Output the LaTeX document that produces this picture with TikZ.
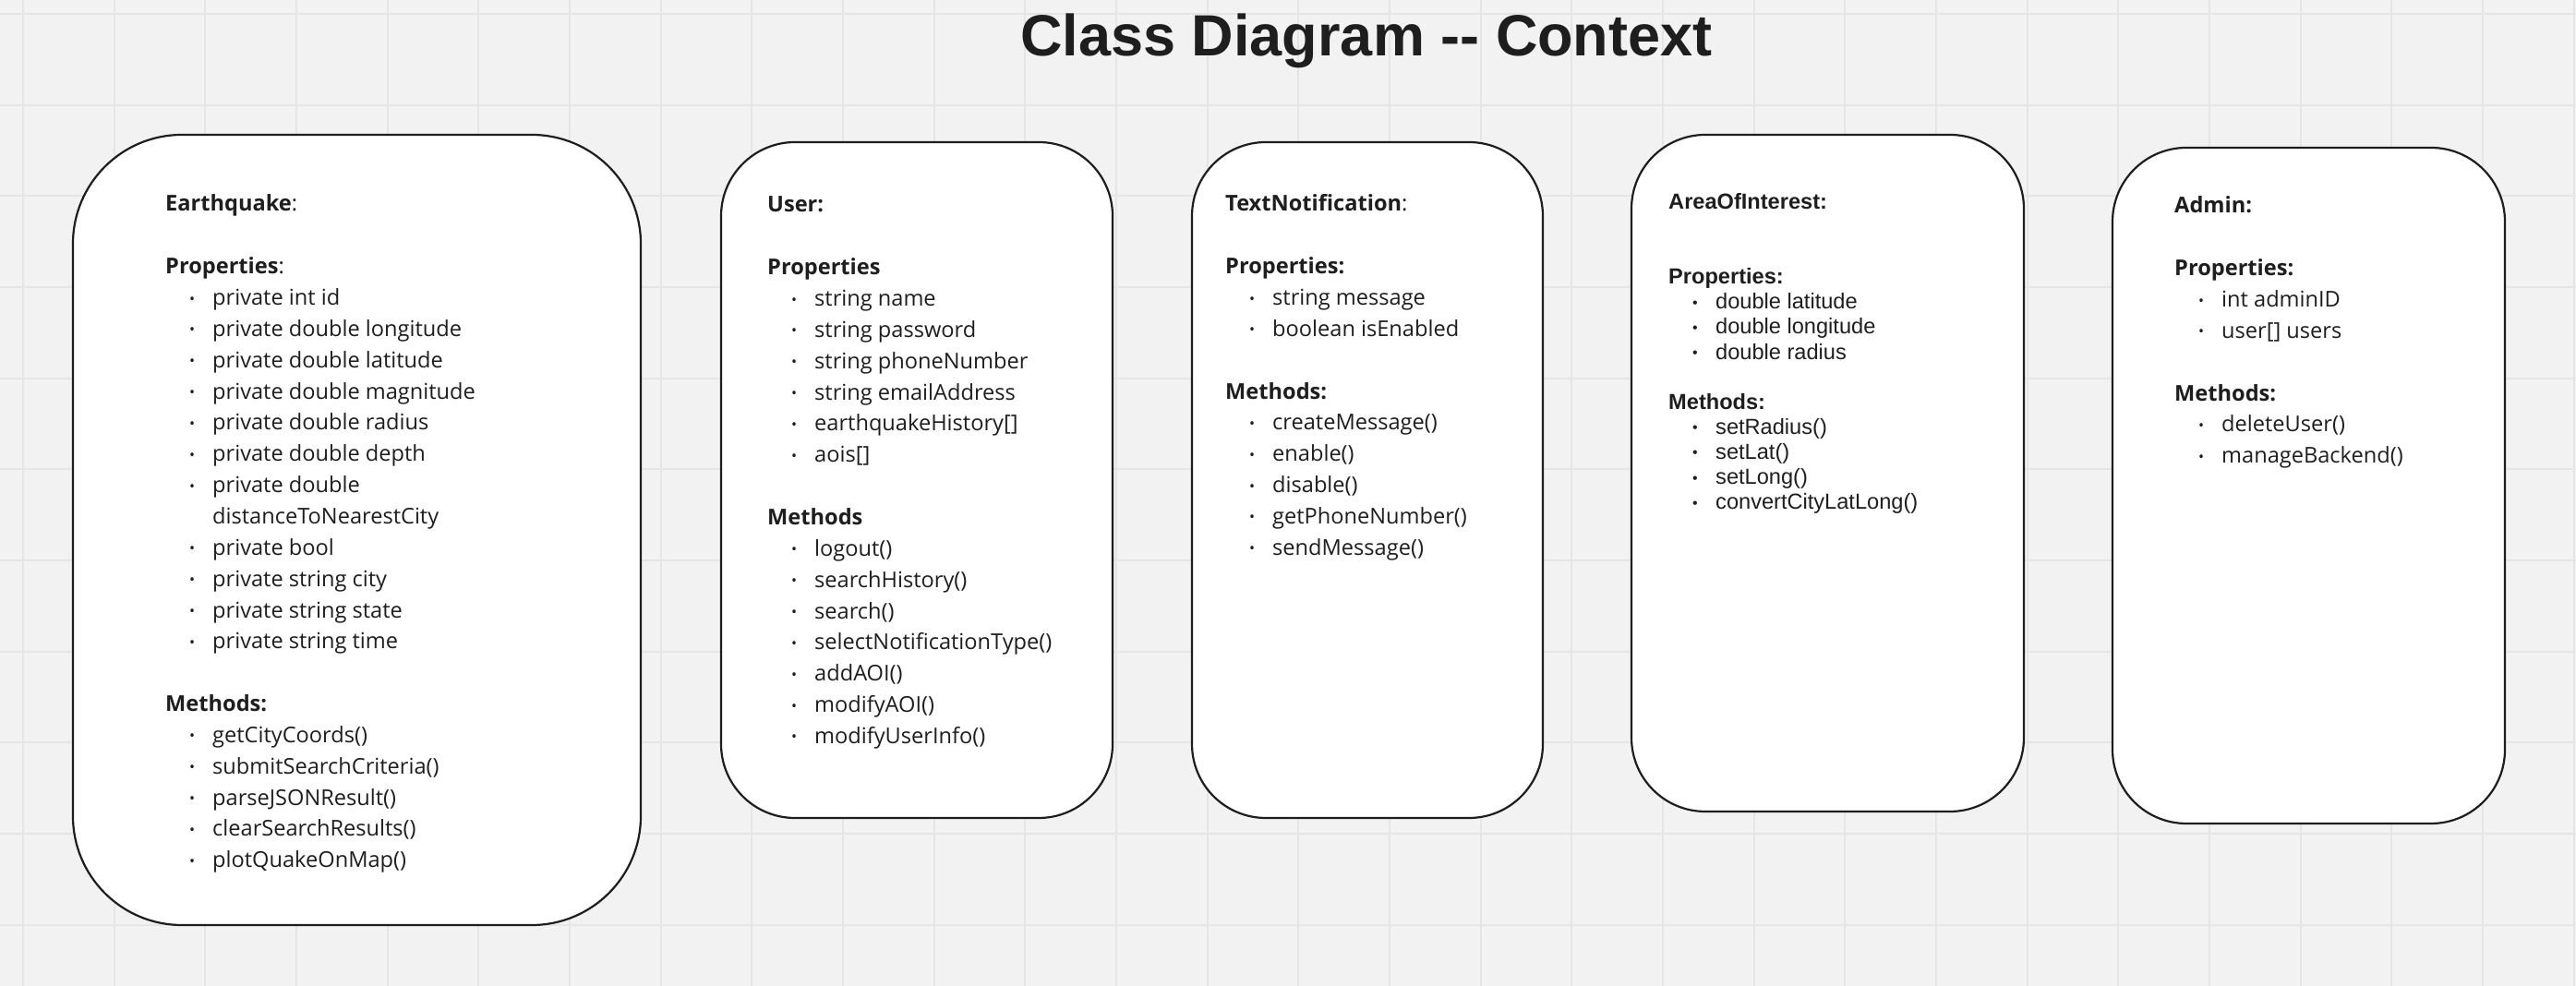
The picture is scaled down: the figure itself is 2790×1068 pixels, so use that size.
\documentclass[tikz,border=0pt]{standalone}
\usepackage{fontspec}
\setmainfont{Open Sans}
\newfontfamily\arialfont{Liberation Sans}
\usetikzlibrary{calc}
\definecolor{paper}{HTML}{F2F2F2}
\definecolor{gridline}{HTML}{E5E5E5}
\definecolor{ink}{HTML}{1E1E1E}
\newcommand{\dotmark}{\raisebox{1.5pt}{\fontsize{16}{16}\selectfont\textbullet}}
\newcommand{\itm}[1]{\hspace*{26pt}\makebox[25pt][l]{\dotmark}#1}
\newcommand{\cont}[1]{\hspace*{51pt}#1}

\begin{document}
\begin{tikzpicture}[x=1pt, y=1pt,
		classbox/.style={draw=ink, fill=white, line width=2.2pt, rounded corners=80pt,
		inner sep=0pt, outer sep=0pt},
		classtext/.style={anchor=base west, align=left, inner sep=0pt, text=ink,
		font=\fontsize{23.6}{33.85}\selectfont}
		]
	
	% background and grid
	\fill[paper] (0,0) rectangle (2790,1068);
	\useasboundingbox (0,0) rectangle (2790,1068);
	\foreach \i in {0,...,28}
		\draw[gridline, line width=2pt] (25+98.67*\i,0) -- (25+98.67*\i,1068);
	\foreach \j in {0,...,10}
		\draw[gridline, line width=2pt] (0,1053-98.67*\j) -- (2790,1053-98.67*\j);
	
	\node[anchor=base, text=ink, font=\arialfont\bfseries\fontsize{63}{70}\selectfont]
		(H) at (1480,1007) {Class Diagram -{}- Context};
	
	% the five classes
	\node[classbox, rounded corners=118pt, minimum width=615pt, minimum height=856pt](C0) at (386.5,494){};
	\node[classbox, minimum width=424pt, minimum height=732pt](C1) at (993,548){};
	\node[classbox, minimum width=380pt, minimum height=732pt](C2) at (1481,548){};
	\node[classbox, minimum width=425pt, minimum height=733pt](C3) at (1979.5,555.5){};
	\node[classbox, minimum width=425pt, minimum height=732pt](C4) at (2500.5,542){};
	
	% lists sit on the baseline of their last line
	\node[classtext](L0) at ($(C0.north west)+(100,-793.85)$){\textbf{Earthquake}:\\
		\\
		\textbf{Properties}:\\
		\itm{private int id}\\
		\itm{private double longitude}\\
		\itm{private double latitude}\\
		\itm{private double magnitude}\\
		\itm{private double radius}\\
		\itm{private double depth}\\
		\itm{private double}\\
		\cont{distanceToNearestCity}\\
		\itm{private bool}\\
		\itm{private string city}\\
		\itm{private string state}\\
		\itm{private string time}\\
		\\
		\textbf{Methods:}\\
		\itm{getCityCoords()}\\
		\itm{submitSearchCriteria()}\\
		\itm{parseJSONResult()}\\
		\itm{clearSearchResults()}\\
		\itm{plotQuakeOnMap()}};
	
	\node[classtext](L1) at ($(C1.north west)+(50,-651.45)$){\textbf{User:}\\
		\\
		\textbf{Properties}\\
		\itm{string name}\\
		\itm{string password}\\
		\itm{string phoneNumber}\\
		\itm{string emailAddress}\\
		\itm{earthquakeHistory[]}\\
		\itm{aois[]}\\
		\\
		\textbf{Methods}\\
		\itm{logout()}\\
		\itm{searchHistory()}\\
		\itm{search()}\\
		\itm{selectNotificationType()}\\
		\itm{addAOI()}\\
		\itm{modifyAOI()}\\
		\itm{modifyUserInfo()}};
	
	\node[classtext](L2) at ($(C2.north west)+(36,-447.35)$){\textbf{TextNotification}:\\
		\\
		\textbf{Properties:}\\
		\itm{string message}\\
		\itm{boolean isEnabled}\\
		\\
		\textbf{Methods:}\\
		\itm{createMessage()}\\
		\itm{enable()}\\
		\itm{disable()}\\
		\itm{getPhoneNumber()}\\
		\itm{sendMessage()}};
	
	\node[classtext, font=\arialfont\fontsize{23.6}{27.1}\selectfont](L3)
		at ($(C3.north west)+(40,-405.7)$){\textbf{AreaOfInterest:}\\
		\\
		\\
		\textbf{Properties:}\\
		\itm{double latitude}\\
		\itm{double longitude}\\
		\itm{double radius}\\
		\\
		\textbf{Methods:}\\
		\itm{setRadius()}\\
		\itm{setLat()}\\
		\itm{setLong()}\\
		\itm{convertCityLatLong()}};
	
	\node[classtext](L4) at ($(C4.north west)+(67,-341.8)$){\textbf{Admin:}\\
		\\
		\textbf{Properties:}\\
		\itm{int adminID}\\
		\itm{user[] users}\\
		\\
		\textbf{Methods:}\\
		\itm{deleteUser()}\\
		\itm{manageBackend()}};
\end{tikzpicture}
\end{document}
